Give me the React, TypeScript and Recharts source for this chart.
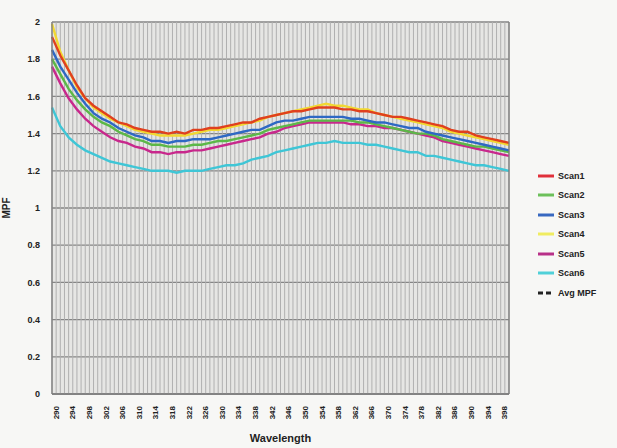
import React from 'react';
import { LineChart, Line, XAxis, YAxis, CartesianGrid, ReferenceLine } from 'recharts';

// wavelength samples (nm), every 2 nm
const wavelengths = [
  289, 291, 293, 295, 297, 299, 301, 303, 305, 307, 309, 311, 313, 315, 317, 319, 321, 323, 325, 327,
  329, 331, 333, 335, 337, 339, 341, 343, 345, 347, 349, 351, 353, 355, 357, 359, 361, 363, 365, 367,
  369, 371, 373, 375, 377, 379, 381, 383, 385, 387, 389, 391, 393, 395, 397, 399,
];

const scan1 = [
  1.92, 1.82, 1.74, 1.66, 1.59, 1.55, 1.52, 1.49, 1.46, 1.45, 1.43, 1.42, 1.41, 1.41, 1.40, 1.41, 1.40, 1.42, 1.42, 1.43,
  1.43, 1.44, 1.45, 1.46, 1.46, 1.48, 1.49, 1.50, 1.51, 1.52, 1.52, 1.53, 1.54, 1.54, 1.54, 1.53, 1.53, 1.52, 1.52, 1.51,
  1.50, 1.49, 1.49, 1.48, 1.47, 1.46, 1.45, 1.44, 1.42, 1.41, 1.41, 1.39, 1.38, 1.37, 1.36, 1.35,
];
const scan2 = [
  1.80, 1.72, 1.64, 1.58, 1.53, 1.49, 1.46, 1.44, 1.41, 1.39, 1.37, 1.36, 1.34, 1.34, 1.33, 1.33, 1.33, 1.34, 1.34, 1.35,
  1.36, 1.36, 1.37, 1.38, 1.39, 1.40, 1.42, 1.43, 1.44, 1.45, 1.46, 1.47, 1.47, 1.47, 1.47, 1.47, 1.47, 1.46, 1.46, 1.45,
  1.44, 1.43, 1.42, 1.41, 1.40, 1.40, 1.39, 1.37, 1.36, 1.35, 1.34, 1.33, 1.33, 1.32, 1.31, 1.30,
];
const scan3 = [
  1.85, 1.76, 1.69, 1.62, 1.56, 1.51, 1.48, 1.46, 1.43, 1.41, 1.39, 1.38, 1.36, 1.36, 1.35, 1.36, 1.36, 1.37, 1.37, 1.37,
  1.38, 1.39, 1.40, 1.41, 1.42, 1.42, 1.44, 1.46, 1.47, 1.47, 1.48, 1.49, 1.49, 1.49, 1.49, 1.49, 1.48, 1.48, 1.47, 1.46,
  1.46, 1.45, 1.44, 1.43, 1.43, 1.41, 1.40, 1.39, 1.38, 1.37, 1.36, 1.35, 1.34, 1.33, 1.32, 1.31,
];
const scan4 = [
  1.99, 1.84, 1.74, 1.65, 1.59, 1.54, 1.51, 1.48, 1.46, 1.44, 1.42, 1.41, 1.40, 1.39, 1.39, 1.39, 1.39, 1.40, 1.41, 1.42,
  1.42, 1.43, 1.44, 1.45, 1.46, 1.47, 1.49, 1.50, 1.51, 1.52, 1.53, 1.54, 1.55, 1.56, 1.55, 1.55, 1.54, 1.53, 1.53, 1.51,
  1.50, 1.49, 1.48, 1.47, 1.46, 1.45, 1.44, 1.43, 1.41, 1.40, 1.39, 1.38, 1.37, 1.36, 1.35, 1.34,
];
const scan5 = [
  1.76, 1.67, 1.59, 1.53, 1.48, 1.44, 1.41, 1.38, 1.36, 1.35, 1.33, 1.32, 1.30, 1.30, 1.29, 1.30, 1.30, 1.31, 1.31, 1.32,
  1.33, 1.34, 1.35, 1.36, 1.37, 1.38, 1.40, 1.41, 1.43, 1.44, 1.45, 1.46, 1.46, 1.46, 1.46, 1.46, 1.45, 1.45, 1.44, 1.44,
  1.43, 1.43, 1.42, 1.41, 1.40, 1.39, 1.38, 1.36, 1.35, 1.34, 1.33, 1.32, 1.31, 1.30, 1.29, 1.28,
];
const scan6 = [
  1.54, 1.44, 1.38, 1.34, 1.31, 1.29, 1.27, 1.25, 1.24, 1.23, 1.22, 1.21, 1.20, 1.20, 1.20, 1.19, 1.20, 1.20, 1.20, 1.21,
  1.22, 1.23, 1.23, 1.24, 1.26, 1.27, 1.28, 1.30, 1.31, 1.32, 1.33, 1.34, 1.35, 1.35, 1.36, 1.35, 1.35, 1.35, 1.34, 1.34,
  1.33, 1.32, 1.31, 1.30, 1.30, 1.28, 1.28, 1.27, 1.26, 1.25, 1.24, 1.23, 1.23, 1.22, 1.21, 1.20,
];

const xTicks = [
  290, 294, 298, 302, 306, 310, 314, 318, 322, 326, 330, 334, 338, 342, 346, 350, 354, 358, 362, 366,
  370, 374, 378, 382, 386, 390, 394, 398,
];
const yTicks = [0, 0.2, 0.4, 0.6, 0.8, 1, 1.2, 1.4, 1.6, 1.8, 2];
// one light vertical grid line per nm
const gridTicks = Array.from({ length: 111 }, (_, i) => 289 + i);

const series = [
  { key: 'scan6', name: 'Scan6', color: '#3fc6d6', values: scan6 },
  { key: 'scan5', name: 'Scan5', color: '#c8288c', values: scan5 },
  { key: 'scan2', name: 'Scan2', color: '#5cb848', values: scan2 },
  { key: 'scan3', name: 'Scan3', color: '#2e68c4', values: scan3 },
  { key: 'scan4', name: 'Scan4', color: '#f2d832', values: scan4 },
  { key: 'scan1', name: 'Scan1', color: '#e0401e', values: scan1 },
];

const legendItems = [
  { name: 'Scan1', color: '#e0303a', dashed: false },
  { name: 'Scan2', color: '#6cc05a', dashed: false },
  { name: 'Scan3', color: '#3868c0', dashed: false },
  { name: 'Scan4', color: '#f0ec60', dashed: false },
  { name: 'Scan5', color: '#b83088', dashed: false },
  { name: 'Scan6', color: '#50d0d8', dashed: false },
  { name: 'Avg MPF', color: '#222222', dashed: true },
];

const data = wavelengths.map((nm, i) => {
  const row: Record<string, number> = { nm };
  series.forEach((s) => {
    row[s.key] = s.values[i];
  });
  return row;
});

const FONT = '"Liberation Sans", Arial, sans-serif';

const fmt = (v: number) => String(Math.round(v * 10) / 10);

const XTick = (props: any) => {
  const { x, y, payload } = props;
  return (
    <text
      x={x}
      y={y + 4}
      transform={`rotate(-90, ${x}, ${y + 4})`}
      textAnchor="end"
      dominantBaseline="central"
      fontSize={8}
      fontWeight="bold"
      fill="#222"
      fontFamily={FONT}
    >
      {payload.value}
    </text>
  );
};

const App: React.FC = () => {
  return (
    <div
      style={{
        position: 'absolute',
        left: 0,
        top: 0,
        width: 617,
        height: 448,
        background: '#f7f7f5',
        fontFamily: FONT,
      }}
    >
      <LineChart width={617} height={448} data={data} margin={{ top: 22, right: 78, bottom: 0, left: 0 }}>
        <CartesianGrid
          xAxisId="main"
          yAxisId="left"
          horizontal={false}
          vertical={false}
          fill="#e6e6e4"
          fillOpacity={1}
        />
        {gridTicks.map((t) => (
          <ReferenceLine key={t} xAxisId="main" yAxisId="left" x={t} stroke="#b0b0b0" strokeWidth={1} />
        ))}
        <CartesianGrid xAxisId="main" yAxisId="left" vertical={false} stroke="#858585" strokeWidth={1.3} />
        <XAxis
          xAxisId="main"
          type="number"
          dataKey="nm"
          domain={[289, 399]}
          ticks={xTicks}
          interval={0}
          height={54}
          tick={<XTick />}
          tickLine={false}
          axisLine={{ stroke: '#7a7a7a', strokeWidth: 1.3 }}
          label={{
            value: 'Wavelength',
            position: 'insideBottom',
            offset: 6,
            style: { fontSize: 11, fontWeight: 'bold', fill: '#222', fontFamily: FONT },
          }}
        />
        <YAxis
          yAxisId="left"
          type="number"
          domain={[0, 2]}
          ticks={yTicks}
          width={52}
          tickLine={false}
          tickSize={6}
          tickMargin={6}
          tickFormatter={fmt}
          axisLine={{ stroke: '#7a7a7a', strokeWidth: 1.3 }}
          tick={{ fontSize: 9, fontWeight: 'bold', fill: '#222', fontFamily: FONT }}
          label={{
            value: 'MPF',
            angle: -90,
            position: 'insideLeft',
            offset: 6,
            style: { fontSize: 10, fontWeight: 'bold', fill: '#222', fontFamily: FONT, textAnchor: 'middle' },
          }}
        />
        <YAxis
          yAxisId="right"
          orientation="right"
          type="number"
          domain={[0, 2]}
          ticks={yTicks}
          width={30}
          tickSize={5}
          tickMargin={5}
          tickFormatter={fmt}
          stroke="#7a7a7a"
          axisLine={{ stroke: '#7a7a7a', strokeWidth: 1.3 }}
          tick={{ fontSize: 9, fontWeight: 'bold', fill: '#222', fontFamily: FONT }}
        />
        {series.map((s) => (
          <Line
            key={s.key}
            xAxisId="main"
            yAxisId="left"
            type="linear"
            dataKey={s.key}
            name={s.name}
            stroke={s.color}
            strokeWidth={2.4}
            dot={false}
            isAnimationActive={false}
          />
        ))}
      </LineChart>
      <div style={{ position: 'absolute', left: 538, top: 166 }}>
        {legendItems.map((item) => (
          <div
            key={item.name}
            style={{ display: 'flex', alignItems: 'center', height: 19.5, fontSize: 9, fontWeight: 'bold', color: '#222' }}
          >
            <svg width={16} height={4} style={{ marginRight: 4 }}>
              <line
                x1={0}
                y1={2}
                x2={16}
                y2={2}
                stroke={item.color}
                strokeWidth={3}
                strokeDasharray={item.dashed ? '5 3' : undefined}
              />
            </svg>
            <span>{item.name}</span>
          </div>
        ))}
      </div>
    </div>
  );
};

export default App;
